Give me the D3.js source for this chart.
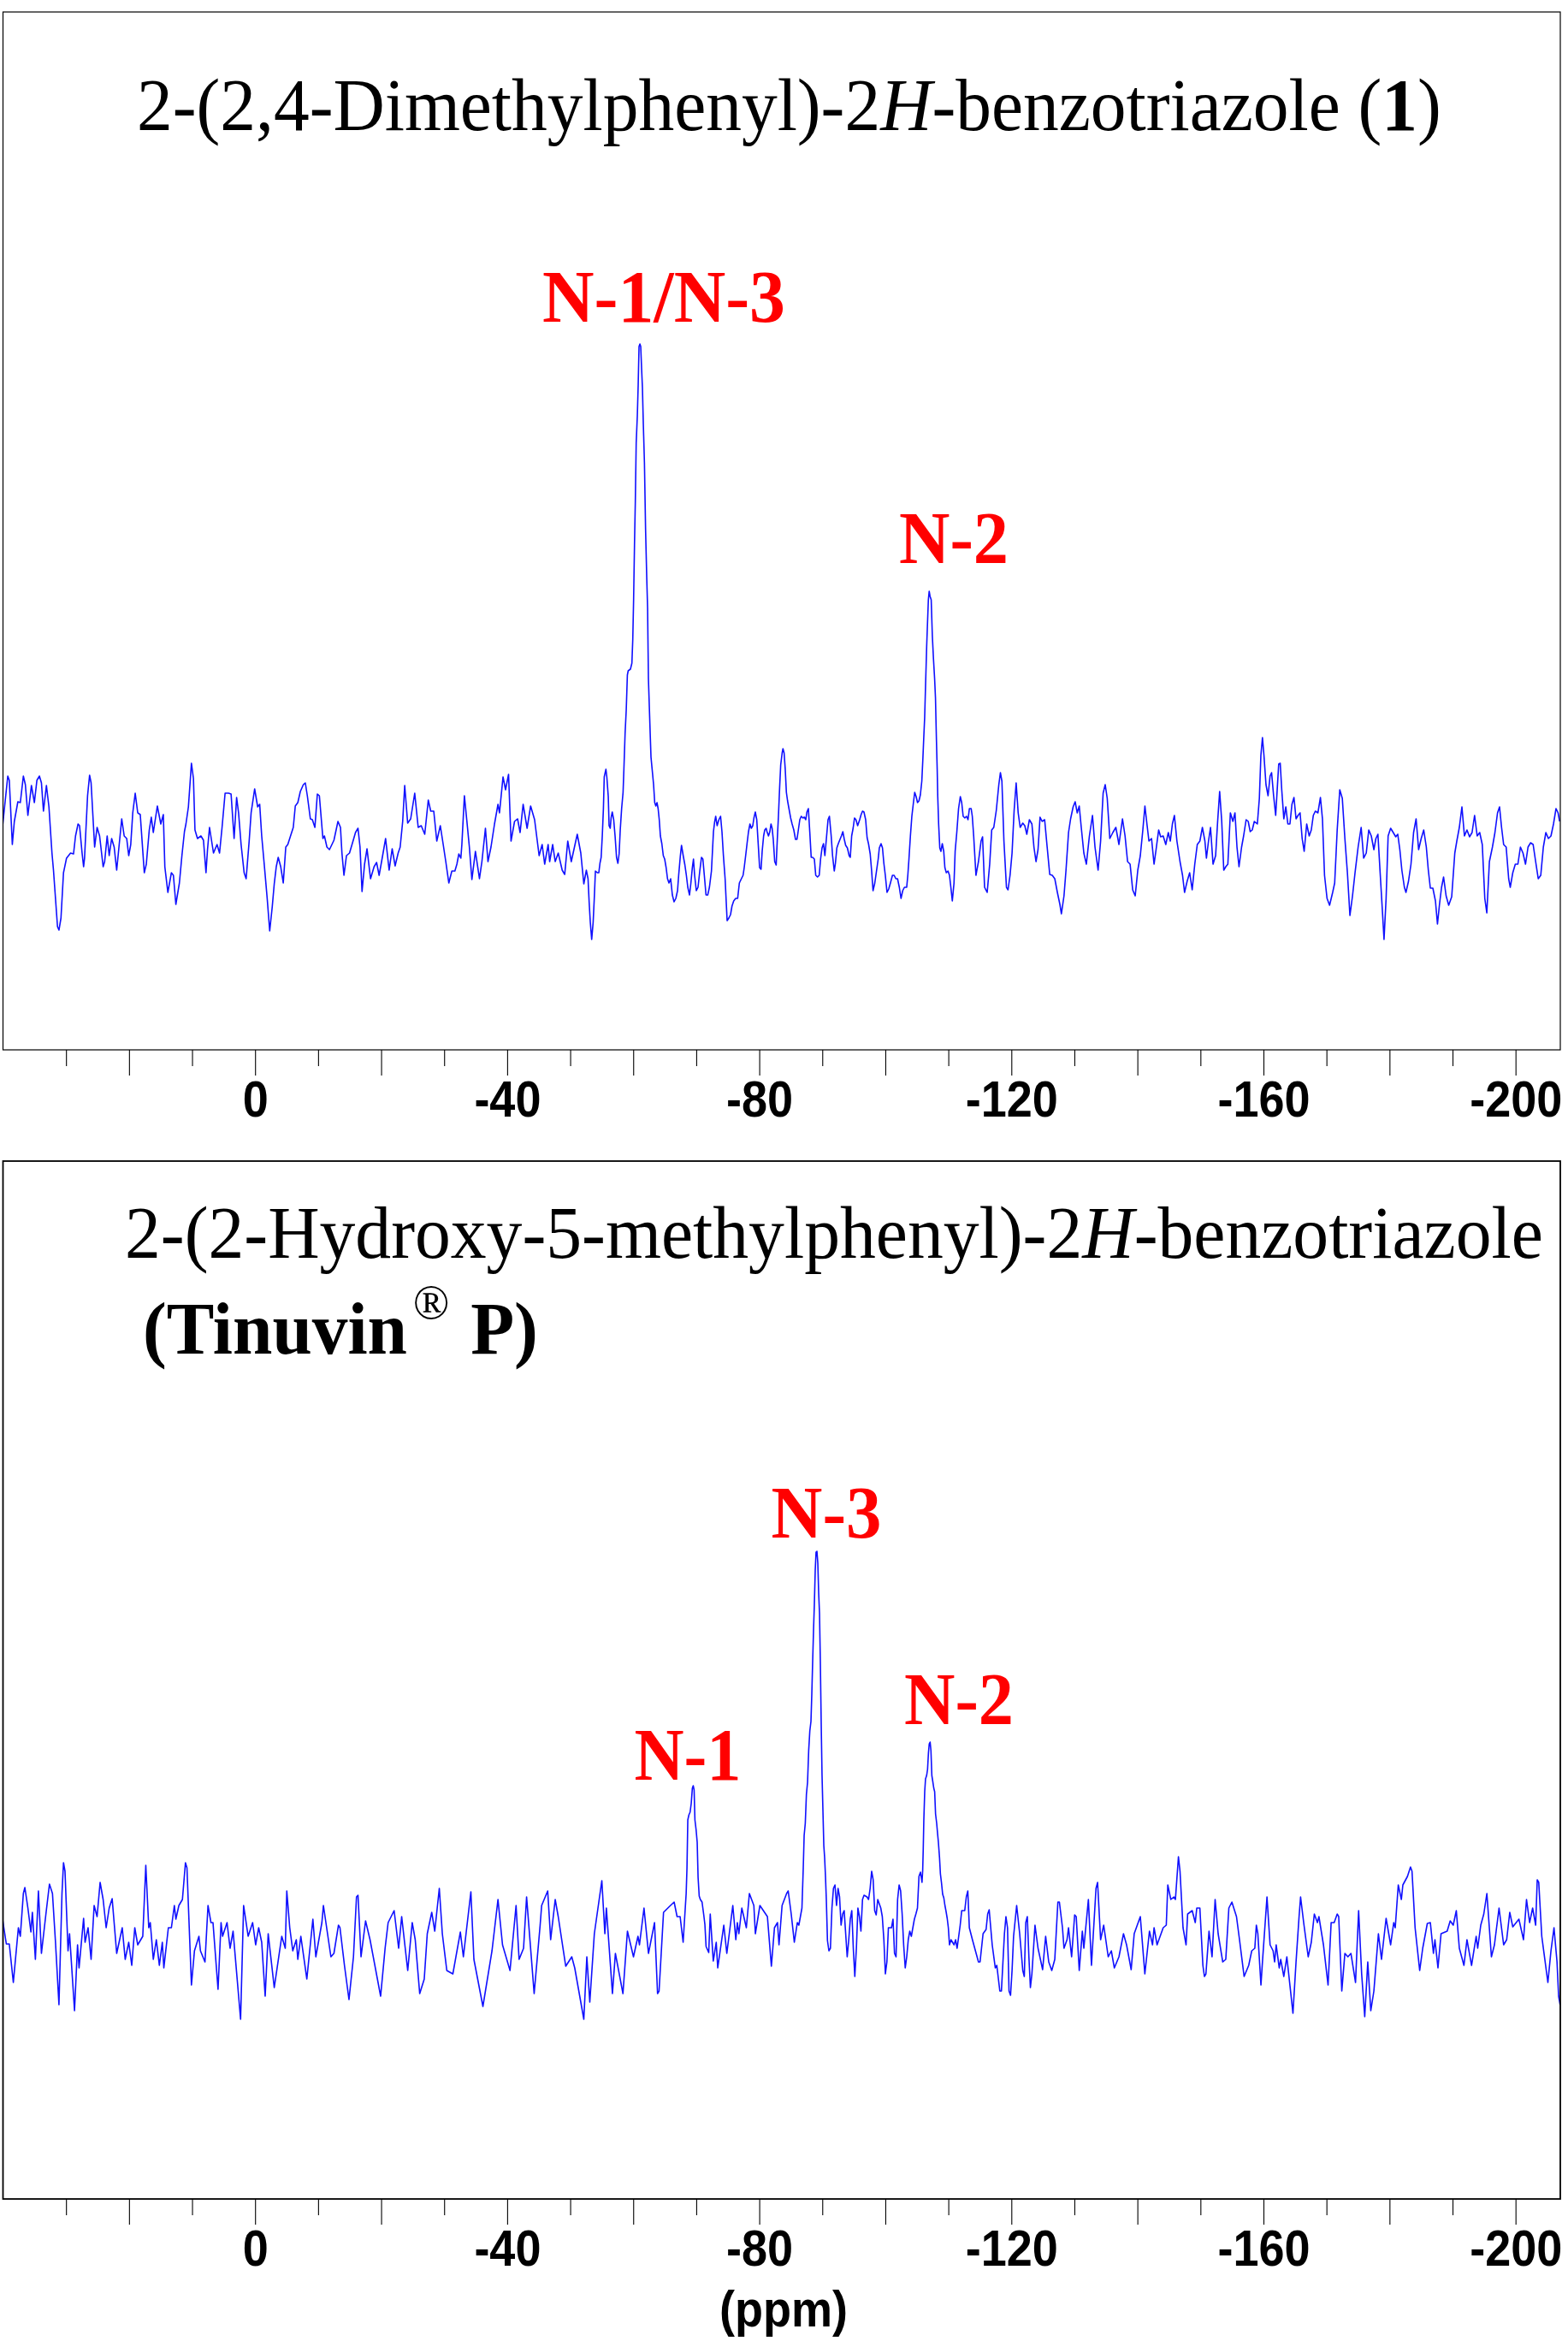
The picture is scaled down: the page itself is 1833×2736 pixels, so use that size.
<!DOCTYPE html>
<html><head><meta charset="utf-8">
<script src="https://cdn.jsdelivr.net/npm/d3@7"></script>
<style>body{margin:0;background:#fff}svg{display:block}</style>
</head><body>
<svg id="chart" width="1833" height="2736"></svg>
<script>
// ---------- data ----------
const majorTicks = [20,0,-20,-40,-60,-80,-100,-120,-140,-160,-180,-200];
const minorTicks = [30,10,-10,-30,-50,-70,-90,-110,-130,-150,-170,-190];
const tickLabels = [0,-40,-80,-120,-160,-200];
const shiftDomain = [40,-207.1];   // ppm, left to right

const titleTop = "2-(2,4-Dimethylphenyl)-2";
const titleBottom = "2-(2-Hydroxy-5-methylphenyl)-2";
const topPeaks = [{label:"N-1/N-3", ppm:-61.0}, {label:"N-2", ppm:-107.1}];
const bottomPeaks = [{label:"N-1", ppm:-69.5}, {label:"N-3", ppm:-89.1}, {label:"N-2", ppm:-107.1}];

// spectrum of compound 1: [shift ppm, intensity a.u.]
const topSpectrum = [[40.03,37],[39.24,93],[39.0,88],[38.52,13],[38.2,40],[37.64,63],[37.25,62],[36.77,93],[36.45,83],[36.05,47],[35.49,82],[35.02,62],[34.62,88],[34.22,93],[33.9,85],[33.58,52],[33.11,82],[32.71,57],[32.23,3],[31.99,-17],[31.35,-83],[31.12,-87],[30.8,-73],[30.4,-20],[29.92,-3],[29.28,3],[28.81,2],[28.49,23],[28.09,37],[27.85,35],[27.45,3],[27.21,-13],[27.06,-3],[26.58,70],[26.26,94],[26.02,85],[25.46,10],[25.07,33],[24.67,23],[24.11,-13],[23.87,-7],[23.47,23],[23.15,0],[22.76,20],[22.36,10],[21.96,-17],[21.64,7],[21.16,43],[20.77,23],[20.37,20],[20.05,0],[19.73,13],[19.41,50],[19.02,73],[18.62,50],[18.22,48],[17.58,-20],[17.26,-10],[16.79,30],[16.47,45],[16.15,27],[15.51,58],[14.96,37],[14.56,48],[14.32,-13],[13.84,-43],[13.28,-20],[12.96,-23],[12.57,-57],[12.01,-32],[11.61,0],[11.21,28],[10.97,37],[10.58,57],[10.1,108],[9.78,90],[9.54,30],[9.14,20],[8.59,23],[8.19,18],[7.79,-20],[7.55,7],[7.23,33],[6.6,3],[6.04,13],[5.64,3],[5.24,33],[4.76,73],[4.21,73],[3.81,72],[3.33,20],[2.93,68],[2.62,50],[2.22,13],[1.74,-20],[1.42,-27],[0.94,17],[0.63,50],[0.07,78],[-0.41,57],[-0.73,60],[-1.05,23],[-1.45,-10],[-1.92,-50],[-2.32,-88],[-2.72,-60],[-3.04,-33],[-3.36,-13],[-3.67,-2],[-4.07,-13],[-4.47,-32],[-4.87,10],[-5.19,13],[-5.58,22],[-6.06,33],[-6.38,58],[-6.78,62],[-7.18,75],[-7.66,83],[-7.97,85],[-8.29,70],[-8.77,43],[-9.09,42],[-9.49,33],[-9.88,72],[-10.2,70],[-10.76,20],[-11.0,23],[-11.4,10],[-11.8,7],[-12.19,13],[-12.51,18],[-13.15,40],[-13.55,33],[-13.78,3],[-14.1,-23],[-14.5,0],[-14.98,3],[-15.54,17],[-15.93,27],[-16.33,32],[-16.65,10],[-16.97,-42],[-17.37,-10],[-17.76,8],[-18.32,-27],[-18.88,-13],[-19.28,-8],[-19.68,-23],[-20.07,-7],[-20.71,20],[-21.27,-17],[-21.75,8],[-22.22,-12],[-22.7,3],[-23.02,10],[-23.42,40],[-23.74,82],[-24.21,38],[-24.69,43],[-25.33,73],[-25.88,33],[-26.36,35],[-26.92,25],[-27.48,65],[-27.87,52],[-28.35,52],[-28.83,17],[-29.39,35],[-29.87,12],[-30.26,-7],[-30.74,-32],[-31.22,-18],[-31.7,-18],[-32.02,-10],[-32.33,2],[-32.65,-3],[-32.81,13],[-33.21,70],[-33.61,40],[-34.0,10],[-34.4,-28],[-34.96,5],[-35.6,-27],[-35.99,-7],[-36.55,32],[-36.95,-7],[-37.43,10],[-37.99,37],[-38.54,60],[-38.78,50],[-39.34,92],[-39.74,77],[-40.22,95],[-40.61,17],[-41.17,40],[-41.65,43],[-42.05,27],[-42.53,60],[-43.16,32],[-43.72,58],[-44.35,42],[-45.07,0],[-45.55,13],[-45.95,-10],[-46.5,13],[-46.74,-7],[-47.22,13],[-47.62,-7],[-48.1,3],[-48.73,-17],[-49.13,-22],[-49.61,17],[-50.17,-7],[-51.12,25],[-51.68,3],[-52.16,-33],[-52.56,-17],[-52.83,-27],[-53.01,-55],[-53.19,-78],
[-53.41,-98],[-53.64,-78],[-53.82,-50],[-54.0,-18],[-54.32,-20],[-54.54,-20],[-54.72,-9],[-54.91,-2],[-55.09,23],[-55.27,55],[-55.4,92],[-55.67,101],[-55.81,92],[-56.04,69],[-56.17,35],[-56.35,32],[-56.49,44],[-56.67,51],[-56.9,42],[-57.12,23],[-57.35,-2],[-57.57,-9],[-57.76,2],[-57.94,30],[-58.16,55],[-58.39,74],[-58.52,101],[-58.71,143],[-58.89,170],[-59.07,211],[-59.2,216],[-59.56,218],[-59.79,225],[-59.93,253],[-60.06,299],[-60.2,363],[-60.33,413],[-60.47,482],[-60.65,514],[-60.79,551],[-60.92,595],[-61.06,598],[-61.19,595],[-61.33,569],[-61.46,547],[-61.6,505],[-61.78,459],[-61.96,381],[-62.14,326],[-62.28,289],[-62.41,207],[-62.55,175],[-62.69,143],[-62.82,115],[-63.0,101],[-63.23,83],[-63.41,62],[-63.59,58],[-63.77,62],[-63.95,55],[-64.13,42],[-64.31,23],[-64.54,14],[-64.77,0],[-64.99,-4],[-65.22,-14],[-65.44,-27],[-65.67,-32],[-65.94,-27],[-66.21,-46],[-66.48,-54],[-66.76,-50],[-67.03,-41],[-67.21,-23],[-67.48,0],[-67.66,12],[-67.93,0],[-68.2,-11],[-68.43,-23],[-68.66,-37],[-68.93,-46],[-69.15,-32],[-69.38,-14],[-69.56,-4],[-69.74,-23],[-70.01,-41],[-70.28,-37],[-70.56,-18],[-70.83,-2],[-71.05,-4],[-71.28,-23],[-71.55,-46],[-71.82,-46],[-72.09,-37],[-72.41,-18],[-72.73,28],[-72.91,39],[-73.09,46],[-73.31,35],[-73.59,42],[-73.86,46],[-74.08,28],[-74.31,0],[-74.58,-27],[-74.9,-76],[-75.17,-73],[-75.44,-69],[-75.67,-59],[-75.94,-53],[-76.25,-50],[-76.57,-50],[-76.84,-32],[-77.16,-27],[-77.43,-23],[-77.61,-14],[-77.84,0],[-78.06,14],[-78.29,28],[-78.52,37],[-78.74,32],[-78.97,35],[-79.15,44],[-79.37,51],[-79.6,42],[-79.87,9],[-80.05,-14],[-80.28,-16],[-80.46,5],[-80.69,23],[-80.87,30],[-81.09,32],[-81.23,28],[-81.46,23],[-81.68,28],[-81.86,37],[-82.04,32],[-82.22,19],[-82.45,-7],[-82.68,-11],[-82.86,19],[-83.04,46],[-83.22,78],[-83.4,106],[-83.63,120],[-83.76,125],[-83.94,120],[-84.12,101],[-84.3,74],[-84.49,64],[-84.71,55],[-84.98,44],[-85.21,37],[-85.48,30],[-85.75,19],[-85.98,19],[-86.2,30],[-86.43,42],[-86.66,46],[-86.93,44],[-87.15,45],[-87.38,42],[-87.56,51],[-87.79,55],[-88.01,28],[-88.24,-2],[-88.47,-2],[-88.74,-4],[-88.96,-23],[-89.24,-25],[-89.51,-23],[-89.73,-4],[-89.96,9],[-90.19,14],[-90.41,0],[-90.64,19],[-90.91,42],[-91.13,46],[-91.41,23],[-91.63,0],[-91.9,-18],[-92.08,-9],[-92.31,9],[-92.54,14],[-92.81,19],[-93.03,23],[-93.26,28],[-93.49,19],[-93.71,12],[-93.98,9],[-94.26,0],[-94.44,-2],[-94.66,23],[-94.89,32],[-95.11,44],[-95.34,42],[-95.61,35],[-95.93,42],[-96.16,48],[-96.38,52],[-96.61,51],[-96.88,42],[-97.11,21],[-97.33,14],[-97.6,2],[-97.83,-18],[-98.05,-41],[-98.33,-32],[-98.6,-18],[-98.87,-4],[-99.05,9],[-99.32,14],[-99.55,9],[-99.77,-9],[-100.0,-23],[-100.27,-43],[-100.54,-39],[-100.81,-32],[-101.13,-23],[-101.4,-23],[-101.67,-27],[-101.94,-27],[-102.22,-37],[-102.49,-50],[-102.76,-41],[-103.03,-37],[-103.39,-37],[-103.57,-23],[-103.75,-4],[-103.98,23],[-104.21,46],[-104.43,60],[-104.66,74],[-104.89,69],[-105.11,62],[-105.34,64],[-105.56,71],[-105.79,87],[-105.97,115],[-106.1,138],[-106.24,161],[-106.38,198],[-106.56,244],[-106.69,271],[-106.83,299],[-106.96,309],[-107.1,303],[-107.28,299],[-107.46,257],[-107.64,230],[-107.82,207],[-107.96,184],[-108.1,138],[-108.23,101],[-108.32,69],[-108.46,37],[-108.64,9],[-108.82,5],[-109.04,14],[-109.27,5],[-109.45,-14],[-109.68,-20],[-109.95,-18],[-110.18,-23],[-110.4,-37],[-110.63,-53],[-110.9,-32],[-111.08,5],[-111.35,28],[-111.62,55],[-111.9,69],[-112.12,62],[-112.35,46],[-112.62,44],[-112.89,46],[-113.12,42],[-113.34,55],[-113.62,55],[-113.8,46],[-114.02,23],
[-114.38,-23],[-114.78,-7],[-115.19,17],[-115.43,22],[-115.75,-37],[-116.16,-43],[-116.56,-10],[-116.88,30],[-117.21,33],[-117.61,53],[-118.01,83],[-118.26,97],[-118.5,87],[-118.82,17],[-119.22,-37],[-119.47,-40],[-119.79,-23],[-120.11,3],[-120.44,53],[-120.76,85],[-121.08,50],[-121.4,33],[-121.81,38],[-122.13,35],[-122.45,25],[-122.86,42],[-123.26,37],[-123.58,10],[-123.91,-7],[-124.23,7],[-124.55,45],[-124.88,40],[-125.28,42],[-125.68,10],[-126.09,-22],[-126.49,-23],[-126.89,-27],[-127.3,-43],[-127.7,-57],[-127.94,-68],[-128.35,-47],[-128.67,-17],[-129.07,27],[-129.4,43],[-129.8,57],[-130.12,63],[-130.45,50],[-130.77,58],[-131.09,33],[-131.5,3],[-131.9,-10],[-132.38,23],[-132.87,47],[-133.27,10],[-133.76,-17],[-134.16,17],[-134.56,73],[-134.89,83],[-135.21,67],[-135.62,20],[-136.1,27],[-136.58,33],[-137.07,13],[-137.63,43],[-138.04,23],[-138.44,-7],[-138.84,-10],[-139.25,-40],[-139.65,-47],[-140.06,-17],[-140.46,0],[-140.86,30],[-141.19,58],[-141.51,37],[-141.83,17],[-142.24,20],[-142.64,-10],[-142.96,7],[-143.37,30],[-143.69,22],[-144.09,23],[-144.5,13],[-144.9,27],[-145.22,17],[-145.55,37],[-145.87,47],[-146.27,17],[-146.76,-7],[-147.16,-23],[-147.48,-43],[-147.89,-30],[-148.29,-20],[-148.69,-40],[-149.1,-10],[-149.5,13],[-149.91,17],[-150.31,33],[-150.71,17],[-150.95,-3],[-151.28,17],[-151.6,33],[-152.0,-10],[-152.41,0],[-152.73,40],[-153.05,75],[-153.38,40],[-153.7,-17],[-154.02,-13],[-154.35,-10],[-154.75,50],[-155.15,40],[-155.48,50],[-155.8,10],[-156.12,-13],[-156.53,10],[-156.85,23],[-157.25,42],[-157.58,40],[-157.9,28],[-158.22,30],[-158.55,40],[-159.03,37],[-159.35,67],[-159.59,117],[-159.84,138],[-160.08,117],[-160.4,83],[-160.73,70],[-161.05,93],[-161.29,97],[-161.61,70],[-161.94,47],[-162.18,77],[-162.42,107],[-162.66,108],[-162.9,77],[-163.23,43],[-163.55,57],[-163.87,37],[-164.2,37],[-164.52,60],[-164.84,68],[-165.17,43],[-165.49,47],[-165.81,50],[-166.14,20],[-166.46,5],[-166.86,37],[-167.26,23],[-167.59,30],[-167.91,47],[-168.23,52],[-168.64,50],[-169.04,68],[-169.36,43],[-169.69,-23],[-170.09,-50],[-170.49,-58],[-170.98,-43],[-171.3,-32],[-171.7,30],[-172.11,77],[-172.51,67],[-172.92,20],[-173.32,-20],[-173.72,-70],[-174.13,-47],[-174.53,-20],[-175.02,10],[-175.5,33],[-175.9,-3],[-176.31,3],[-176.71,30],[-177.11,23],[-177.52,7],[-177.84,20],[-178.16,25],[-178.57,-27],[-178.89,-67],[-179.13,-98],[-179.46,-50],[-179.78,23],[-180.18,32],[-180.59,27],[-180.99,22],[-181.31,25],[-181.64,7],[-181.96,-17],[-182.36,-37],[-182.61,-43],[-183.01,-30],[-183.41,-10],[-183.82,27],[-184.22,43],[-184.62,7],[-185.03,20],[-185.43,30],[-185.84,10],[-186.16,-17],[-186.48,-38],[-186.88,-38],[-187.29,-53],[-187.61,-80],[-187.93,-57],[-188.26,-37],[-188.58,-25],[-188.98,-47],[-189.39,-58],[-189.87,-48],[-190.36,3],[-190.68,17],[-191.08,33],[-191.49,57],[-191.89,23],[-192.29,30],[-192.7,22],[-193.1,27],[-193.5,47],[-193.91,23],[-194.31,27],[-194.72,13],[-195.12,-50],[-195.44,-67],[-195.85,-7],[-196.33,10],[-196.73,27],[-197.14,50],[-197.46,57],[-197.78,33],[-198.11,13],[-198.51,10],[-198.91,-27],[-199.16,-37],[-199.56,-20],[-199.96,-10],[-200.37,-10],[-200.77,10],[-201.18,3],[-201.58,-10],[-201.98,10],[-202.39,15],[-202.79,13],[-203.19,-7],[-203.6,-27],[-204.0,-23],[-204.41,10],[-204.81,27],[-205.21,20],[-205.62,23],[-206.02,37],[-206.42,55],[-206.75,50],[-206.99,40]];

// spectrum of Tinuvin P: [shift ppm, intensity a.u.]
const bottomSpectrum = [[40.03,25],[39.47,-2],[39.0,-2],[38.36,-47],[37.56,17],[37.25,7],[36.77,57],[36.53,64],[36.05,40],[35.57,12],[35.34,35],[34.86,-20],[34.38,60],[33.9,-13],[33.19,33],[32.63,68],[32.15,57],[31.67,0],[31.12,-73],[30.64,57],[30.4,93],[30.16,83],[29.68,-10],[29.44,10],[28.65,-80],[28.17,-3],[27.93,-30],[27.21,28],[26.98,0],[26.5,17],[26.02,-20],[25.54,43],[25.07,30],[24.59,70],[24.11,50],[23.63,17],[23.15,40],[22.68,51],[21.96,-13],[21.08,17],[20.61,-20],[20.05,0],[19.57,-27],[19.09,17],[18.62,-3],[17.82,7],[17.34,90],[16.87,17],[16.63,23],[16.15,-20],[15.67,3],[15.19,-27],[14.72,0],[14.48,-30],[13.76,17],[13.28,17],[12.81,43],[12.57,27],[12.09,43],[11.53,50],[11.05,93],[10.81,87],[10.1,-50],[9.62,-10],[8.91,7],[8.67,-10],[7.95,-23],[7.47,43],[7.0,23],[6.68,23],[5.88,-55],[5.4,23],[5.16,7],[4.45,23],[3.97,-7],[3.49,13],[2.3,-90],[1.82,43],[1.1,7],[0.39,23],[-0.09,-3],[-0.57,17],[-1.05,0],[-1.6,-63],[-2.08,10],[-3.04,-53],[-4.23,7],[-4.79,-7],[-5.03,60],[-5.5,17],[-5.98,-10],[-6.54,3],[-6.78,-20],[-7.26,7],[-8.21,-43],[-9.17,27],[-9.64,-17],[-10.6,23],[-10.84,43],[-12.03,-17],[-12.51,-13],[-13.23,20],[-13.47,17],[-14.18,-27],[-14.9,-67],[-15.61,-17],[-16.09,53],[-16.33,55],[-16.81,-17],[-17.53,25],[-18.24,3],[-19.92,-63],[-20.63,-7],[-21.11,23],[-22.06,37],[-22.78,-7],[-23.26,30],[-24.22,-33],[-24.93,23],[-25.41,3],[-26.12,-60],[-26.84,-43],[-27.32,10],[-28.03,35],[-28.51,13],[-29.23,63],[-29.71,10],[-30.42,-33],[-31.38,-37],[-32.57,12],[-33.05,-17],[-34.24,59],[-34.72,-20],[-36.15,-75],[-37.59,-10],[-38.54,50],[-39.26,-3],[-40.45,-33],[-41.41,43],[-41.89,-20],[-42.6,-7],[-43.08,53],[-44.28,-60],[-45.23,20],[-45.47,43],[-46.43,60],[-46.9,3],[-47.62,50],[-48.1,30],[-49.29,-28],[-50.25,-17],[-50.72,-30],[-52.16,-90],[-52.64,-17],[-53.11,-70],[-53.83,10],[-55.02,72],[-55.5,10],[-55.74,40],[-56.7,-60],[-57.17,-13],[-58.37,-60],[-59.08,13],[-60.04,-17],[-60.75,7],[-60.99,-3],[-61.71,40],[-62.42,-13],[-63.38,23],[-63.86,-60],[-64.1,-57],[-64.81,35],[-65.77,42],[-66.49,47],[-66.96,30],[-67.44,30],[-67.92,0],[-68.4,57],
[-68.53,87],[-68.66,143],[-68.84,149],[-69.02,152],[-69.2,162],[-69.38,180],[-69.52,183],[-69.66,178],[-69.79,143],[-69.97,132],[-70.15,117],[-70.29,76],[-70.47,54],[-70.65,50],[-70.92,47],[-71.19,32],[-71.37,21],[-71.56,-5],
[-71.98,-12],[-72.22,33],[-72.7,-22],[-73.17,0],[-73.41,-30],[-74.37,20],[-74.85,-13],[-75.8,43],[-76.28,3],[-76.52,23],[-76.76,10],[-77.23,40],[-77.95,17],[-78.43,57],[-79.14,43],[-79.38,10],[-80.1,43],[-81.29,30],
[-81.92,-28],[-82.41,17],[-82.89,23],[-83.13,-3],[-83.62,43],[-84.34,57],[-84.59,60],[-85.07,33],[-85.56,0],[-86.04,23],[-86.28,20],[-86.77,40],
[-86.98,87],[-87.12,125],[-87.3,139],[-87.48,173],[-87.66,187],[-87.84,224],[-88.02,247],[-88.2,258],[-88.34,291],[-88.47,328],[-88.61,365],[-88.74,395],[-88.88,435],[-89.01,456],[-89.15,457],[-89.29,443],[-89.42,409],[-89.56,384],[-89.69,328],[-89.83,254],[-89.96,195],[-90.1,154],[-90.24,113],[-90.37,99],[-90.51,76],[-90.64,50],[-90.82,2],
[-91.05,-10],[-91.29,-7],[-91.53,40],[-91.77,63],[-92.01,67],[-92.26,43],[-92.5,63],[-92.74,53],[-92.98,20],[-93.23,33],[-93.47,37],[-93.71,10],[-93.95,-17],[-94.2,3],[-94.44,27],[-94.68,37],[-94.92,-7],[-95.16,-40],[-95.41,-7],[-95.65,40],[-95.89,30],[-96.13,13],[-96.38,50],[-96.62,55],[-97.1,53],[-97.34,50],[-97.59,63],[-97.83,83],[-98.07,73],[-98.31,37],[-98.55,32],[-98.8,50],[-99.28,40],[-99.52,30],[-99.77,3],[-100.01,-37],[-100.25,-23],[-100.49,17],[-100.98,17],[-101.22,27],[-101.46,-13],[-101.7,-17],[-101.95,50],[-102.19,67],[-102.43,60],[-102.67,33],[-102.91,-3],[-103.16,-30],[-103.4,-17],[-103.64,3],[-103.88,13],[-104.13,7],[-104.37,17],[-104.61,27],[-104.85,33],[-105.1,40],[-105.34,77],[-105.58,82],[-105.82,70],
[-105.93,84],[-106.02,110],[-106.11,143],[-106.25,176],[-106.38,191],[-106.56,195],[-106.7,202],[-106.84,221],[-106.97,232],[-107.11,234],[-107.24,224],[-107.38,195],[-107.51,189],[-107.69,180],[-107.83,176],[-107.97,150],[-108.15,139],[-108.28,128],[-108.42,117],[-108.6,99],[-108.74,80],[-108.92,69],[-109.1,56],[-109.28,52],[-109.46,43],[-109.64,36],[-109.82,28],[-110.0,17],
[-110.18,-3],[-110.42,3],[-110.91,-3],[-111.15,3],[-111.39,-7],[-111.88,20],[-112.12,37],[-112.6,37],[-112.85,53],[-113.09,60],[-113.33,17],[-113.82,3],[-114.3,-10],[-114.78,-23],[-115.03,-23],[-115.51,10],[-115.99,15],[-116.24,33],[-116.48,38],[-116.96,-3],[-117.45,-30],[-117.69,-27],[-118.17,-57],[-118.42,-57],[-118.9,10],[-119.14,30],[-119.39,17],[-119.63,-57],[-119.87,-62],[-120.11,-33],[-120.35,7],[-120.84,43],[-121.32,10],[-121.81,-33],[-122.05,-40],[-122.29,23],[-122.53,30],[-122.78,-17],[-123.02,-53],[-123.26,-37],[-123.75,20],[-124.23,-7],[-124.96,-32],[-125.44,7],[-125.93,-23],[-126.41,-33],[-126.89,-20],[-127.38,47],[-127.62,47],[-128.11,17],[-128.35,-7],[-128.83,3],[-129.07,17],[-129.56,-17],[-130.04,32],[-130.29,30],[-130.77,-33],[-131.26,13],[-131.5,-7],[-132.22,50],[-132.71,-27],[-133.43,63],[-133.68,70],[-134.16,3],[-134.65,20],[-135.37,-17],[-135.86,-10],[-136.34,-30],[-137.07,-17],[-137.79,10],[-138.28,-3],[-139.01,-32],[-139.49,10],[-140.46,30],[-141.18,-37],[-141.91,13],[-142.4,-3],[-142.64,17],[-143.12,-3],[-144.09,17],[-144.58,20],[-144.82,67],[-145.3,50],[-145.79,53],[-146.03,50],[-146.51,100],[-146.76,83],[-147.24,17],[-147.72,-3],[-147.97,33],[-148.69,37],[-149.18,23],[-149.42,40],[-149.91,40],[-150.39,-27],[-150.63,-40],[-150.87,-37],[-151.36,13],[-151.84,-17],[-152.33,50],[-152.81,10],[-153.54,-23],[-154.02,-20],[-154.51,40],[-154.99,47],[-155.72,30],[-156.2,3],[-156.93,-40],[-157.66,-27],[-158.14,-10],[-158.63,-7],[-158.87,20],[-159.11,10],[-159.6,-50],[-159.84,-23],[-160.56,53],[-161.05,-3],[-161.53,-10],[-161.77,-23],[-162.02,-3],[-162.5,-30],[-162.74,-20],[-163.23,-40],[-163.71,-17],[-164.68,-83],[-165.17,-23],[-165.65,30],[-165.89,53],[-166.38,23],[-167.1,-17],[-167.59,0],[-168.07,33],[-168.56,23],[-168.8,30],[-169.52,-3],[-170.25,-50],[-170.74,23],[-171.22,23],[-171.7,33],[-171.94,30],[-172.43,-57],[-172.92,-13],[-173.4,-17],[-173.88,-13],[-174.61,-47],[-175.1,37],[-175.58,-37],[-176.07,-87],[-176.55,-23],[-177.03,-80],[-177.52,-57],[-178.24,10],[-178.73,-20],[-179.46,28],[-180.18,-3],[-180.67,23],[-180.91,17],[-181.39,67],[-181.88,50],[-182.12,67],[-182.85,77],[-183.33,88],[-183.57,83],[-184.06,17],[-184.79,-33],[-185.27,-7],[-186.0,22],[-186.48,23],[-186.97,-13],[-187.21,3],[-187.69,-30],[-188.18,10],[-189.15,13],[-189.63,25],[-190.11,20],[-190.6,37],[-191.08,-7],[-191.81,-27],[-192.29,3],[-193.02,-27],[-193.75,7],[-193.99,-7],[-194.48,20],[-194.96,33],[-195.45,57],[-196.17,-17],[-196.65,-3],[-197.38,40],[-198.11,-3],[-198.59,3],[-199.08,35],[-199.56,18],[-200.53,27],[-201.26,3],[-201.74,50],[-202.23,23],[-202.71,40],[-203.19,20],[-203.44,73],[-203.68,70],[-204.16,7],[-205.13,-47],[-205.62,-10],[-206.1,17],[-206.58,-23],[-206.83,-63],[-207.07,-73]];

// ---------- layout ----------
const SERIF = "'Liberation Serif','Times New Roman',Times,serif";
const SANS = "'Liberation Sans',Arial,Helvetica,sans-serif";
const svg = d3.select('#chart');
svg.append('rect').attr('width',1833).attr('height',2736).attr('fill','#fff');

const x = d3.scaleLinear().domain(shiftDomain).range([3.5, 1824]);
const panels = [
  {data: topSpectrum, y0: 14, y1: 1227, yDom: [-227, 986], frameW: 1.2, id: 'cTop'},
  {data: bottomSpectrum, y0: 1357, y1: 2570, yDom: [-300, 913], frameW: 1.8, id: 'cBot'}
];

function fitText(parent, o) {
  const t = parent.append('text')
    .attr('font-family', o.family).attr('font-size', o.size)
    .attr('font-weight', o.weight || 'normal').attr('fill', o.fill || '#000')
    .attr('text-anchor', o.anchor || 'start');
  o.parts.forEach(p => {
    const s = t.append('tspan').text(p.text);
    if (p.italic) s.attr('font-style', 'italic');
    if (p.bold) s.attr('font-weight', 'bold');
    if (p.normal) s.attr('font-weight', 'normal');
    if (p.size) s.attr('font-size', p.size);
    if (p.dx) s.attr('dx', p.dx);
    if (p.dy) s.attr('dy', p.dy);
  });
  const w = t.node().getBBox().width;
  const sx = o.width ? o.width / w : 1;
  t.attr('transform', `translate(${o.x},${o.y}) scale(${sx},1)`);
  return t;
}

panels.forEach(p => {
  const y = d3.scaleLinear().domain(p.yDom).range([p.y1, p.y0]);
  p.y = y;
  svg.append('clipPath').attr('id', p.id).append('rect')
    .attr('x', 3.5).attr('y', p.y0).attr('width', 1820.5).attr('height', p.y1 - p.y0);

  svg.append('path').datum(p.data)
    .attr('clip-path', `url(#${p.id})`)
    .attr('fill', 'none').attr('stroke', '#1010ff').attr('stroke-width', 1.6)
    .attr('stroke-linejoin', 'round')
    .attr('d', d3.line().x(d => x(d[0])).y(d => y(d[1])));

  svg.append('rect').attr('x', 3.5).attr('y', p.y0).attr('width', 1820.5).attr('height', p.y1 - p.y0)
    .attr('fill', 'none').attr('stroke', '#000').attr('stroke-width', p.frameW);

  const gMaj = svg.append('g').attr('transform', `translate(0,${p.y1})`)
    .call(d3.axisBottom(x).tickValues(majorTicks).tickSize(30)
      .tickFormat(d => tickLabels.includes(d) ? String(d) : ''));
  const gMin = svg.append('g').attr('transform', `translate(0,${p.y1})`)
    .call(d3.axisBottom(x).tickValues(minorTicks).tickSize(19).tickFormat(''));
  [gMaj, gMin].forEach(g => {
    g.select('.domain').remove();
    g.selectAll('line').attr('stroke', '#000').attr('stroke-width', 1.1);
  });
  gMaj.selectAll('text')
    .attr('y', 78).attr('dy', 0)
    .attr('fill', '#000')
    .style('font-family', SANS).style('font-size', '60px').style('font-weight', 'bold')
    .attr('transform', 'scale(0.9,1)');
});

// titles
fitText(svg, {x: 160, y: 152, width: 1525, size: 86, family: SERIF,
  parts: [{text: titleTop}, {text: 'H', italic: true}, {text: '-benzotriazole ('}, {text: '1', bold: true}, {text: ')'}]});
fitText(svg, {x: 146, y: 1470, width: 1658, size: 86, family: SERIF,
  parts: [{text: titleBottom}, {text: 'H', italic: true}, {text: '-benzotriazole'}]});
fitText(svg, {x: 167, y: 1582, width: 462, size: 86, family: SERIF, weight: 'bold',
  parts: [{text: '(Tinuvin'},
          {text: '\u00AE', normal: true, size: 58, dx: 7, dy: -41},
          {text: ' P)', dx: 4, dy: 41}]});

// peak labels
const labelPos = [
  {p: topPeaks[0], cx: 776, base: 376, w: 284},
  {p: topPeaks[1], cx: 1115, base: 658, w: 128},
  {p: bottomPeaks[0], cx: 804, base: 2080, w: 125},
  {p: bottomPeaks[1], cx: 966, base: 1797, w: 129},
  {p: bottomPeaks[2], cx: 1121, base: 2015, w: 128}
];
labelPos.forEach(l => {
  fitText(svg, {x: l.cx, y: l.base, width: l.w, size: 86, family: SERIF, weight: 'bold',
    fill: '#ff0000', anchor: 'middle', parts: [{text: l.p.label}]});
});

// axis title
fitText(svg, {x: 916, y: 2719, width: 150, size: 60, family: SANS, weight: 'bold',
  anchor: 'middle', parts: [{text: '(ppm)'}]});
</script>
</body></html>
